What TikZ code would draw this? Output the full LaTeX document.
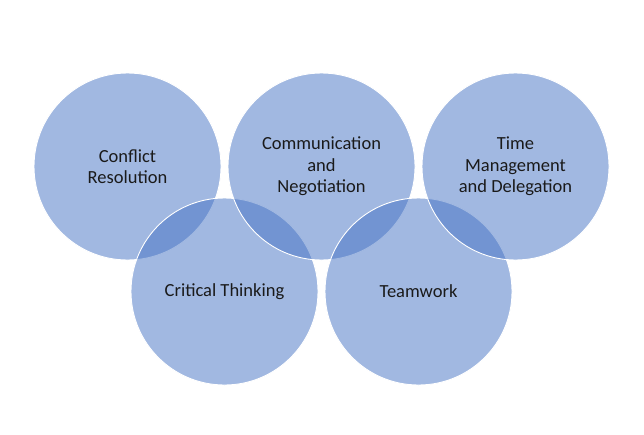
\documentclass[tikz,border=0pt]{standalone}
\usepackage{fontspec}
\setmainfont{Carlito}
\definecolor{accentblue}{HTML}{4472C4}
\definecolor{txt}{HTML}{1A1A1A}
\begin{document}
\begin{tikzpicture}[x=1pt,y=-1pt,
  ring/.style={circle, minimum size=187pt, inner sep=0pt, fill=accentblue,
    fill opacity=0.5, draw=white, draw opacity=1, line width=0.9pt,
    text opacity=1, text=txt, align=center,
    font=\fontsize{18.5}{21.5}\selectfont}]
\fill[white] (0,0) rectangle (644,434);
\useasboundingbox (0,0) rectangle (644,434);
\node[ring] (conflict) at (127.5,166.5) {Conflict\\Resolution};
\node[ring] (critical) at (224.5,291.5) {Critical Thinking};
\node[ring] (comm) at (321.5,166.5) {Communication\\and\\Negotiation};
\node[ring] (team) at (418.5,291.5) {Teamwork};
\node[ring] (time) at (515.5,166.5) {Time\\Management\\and Delegation};
\end{tikzpicture}
\end{document}
